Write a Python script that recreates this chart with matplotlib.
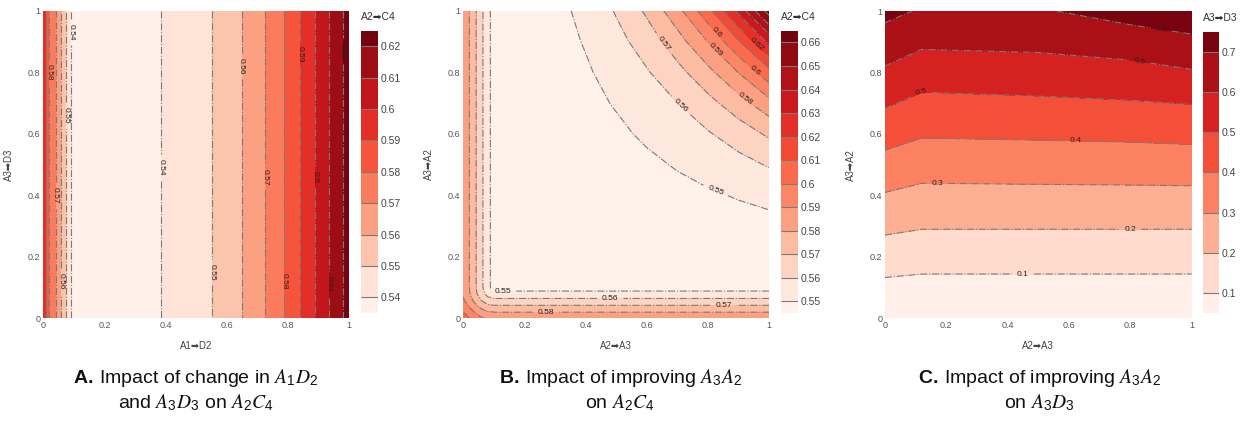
import numpy as np
import matplotlib
matplotlib.use('Agg')
import matplotlib.pyplot as plt
from matplotlib.ticker import FormatStrFormatter

plt.rcParams['font.family'] = ['Liberation Sans', 'DejaVu Sans']
plt.rcParams['mathtext.fontset'] = 'custom'
plt.rcParams['mathtext.rm'] = 'Liberation Sans'
plt.rcParams['mathtext.bf'] = 'Liberation Sans:bold'
plt.rcParams['mathtext.it'] = 'STIXGeneral:italic'

# Panel A: A2->C4 depends only on A1->D2 (read along the x axis)
a_x = [0, 0.008, 0.02, 0.04, 0.058, 0.075, 0.092, 0.24, 0.386, 0.551,
       0.648, 0.724, 0.786, 0.839, 0.888, 0.935, 0.978, 1.0]
a_y = [0, 1]
a_values = [0.592, 0.59, 0.58, 0.57, 0.56, 0.55, 0.54, 0.537, 0.54, 0.55,
            0.56, 0.57, 0.58, 0.59, 0.60, 0.61, 0.62, 0.624]
a_levels = [0.535, 0.54, 0.55, 0.56, 0.57, 0.58, 0.59, 0.60, 0.61, 0.62, 0.625]
a_ticks = [0.54, 0.55, 0.56, 0.57, 0.58, 0.59, 0.60, 0.61, 0.62]
a_label_pos = [(0.092, 0.93), (0.02, 0.8), (0.075, 0.66), (0.04, 0.4), (0.058, 0.12),
               (0.386, 0.49), (0.551, 0.15), (0.648, 0.82), (0.724, 0.46),
               (0.786, 0.12), (0.839, 0.86), (0.888, 0.46), (0.935, 0.11), (0.978, 0.87)]

# Panel B: A2->C4 over A2->A3 (x) and A3->A2 (y)
b_nodes = [0, 0.02, 0.04, 0.06, 0.08, 0.1, 0.2, 0.3, 0.4, 0.5, 0.6, 0.7, 0.8, 0.9, 1.0]
b_values = [
    [0.606, 0.600, 0.595, 0.591, 0.589, 0.588, 0.588, 0.588, 0.588, 0.588, 0.588, 0.588, 0.588, 0.588, 0.588],
    [0.600, 0.594, 0.589, 0.584, 0.581, 0.580, 0.580, 0.580, 0.580, 0.580, 0.580, 0.580, 0.580, 0.580, 0.580],
    [0.595, 0.589, 0.582, 0.576, 0.572, 0.571, 0.571, 0.571, 0.571, 0.571, 0.571, 0.571, 0.571, 0.571, 0.571],
    [0.591, 0.584, 0.576, 0.569, 0.564, 0.562, 0.562, 0.562, 0.562, 0.562, 0.562, 0.562, 0.562, 0.562, 0.562],
    [0.589, 0.581, 0.572, 0.564, 0.556, 0.553, 0.553, 0.553, 0.553, 0.553, 0.553, 0.553, 0.553, 0.553, 0.553],
    [0.588, 0.580, 0.571, 0.562, 0.553, 0.546, 0.546, 0.546, 0.546, 0.546, 0.546, 0.546, 0.546, 0.546, 0.546],
    [0.588, 0.580, 0.571, 0.562, 0.553, 0.546, 0.5460, 0.5460, 0.5461, 0.5461, 0.5462, 0.5463, 0.5465, 0.5467, 0.5470],
    [0.588, 0.580, 0.571, 0.562, 0.553, 0.546, 0.5460, 0.5461, 0.5462, 0.5464, 0.5467, 0.5470, 0.5470, 0.5474, 0.5478],
    [0.588, 0.580, 0.571, 0.562, 0.553, 0.546, 0.5461, 0.5462, 0.5465, 0.5470, 0.5476, 0.5482, 0.5492, 0.5505, 0.5520],
    [0.588, 0.580, 0.571, 0.562, 0.553, 0.546, 0.5461, 0.5464, 0.5470, 0.5479, 0.5488, 0.5505, 0.5525, 0.5568, 0.5609],
    [0.588, 0.580, 0.571, 0.562, 0.553, 0.546, 0.5462, 0.5467, 0.5476, 0.5488, 0.5510, 0.5548, 0.5592, 0.5647, 0.5717],
    [0.588, 0.580, 0.571, 0.562, 0.553, 0.546, 0.5463, 0.5470, 0.5482, 0.5505, 0.5548, 0.5600, 0.5669, 0.5758, 0.5868],
    [0.588, 0.580, 0.571, 0.562, 0.553, 0.546, 0.5465, 0.5470, 0.5492, 0.5525, 0.5592, 0.5669, 0.5772, 0.5904, 0.6069],
    [0.588, 0.580, 0.571, 0.562, 0.553, 0.546, 0.5467, 0.5474, 0.5505, 0.5568, 0.5647, 0.5758, 0.5904, 0.6092, 0.6328],
    [0.588, 0.580, 0.571, 0.562, 0.553, 0.546, 0.5470, 0.5478, 0.5520, 0.5609, 0.5717, 0.5868, 0.6069, 0.6328, 0.6650],
]
b_levels = [0.545, 0.55, 0.56, 0.57, 0.58, 0.59, 0.60, 0.61, 0.62, 0.63, 0.64, 0.65, 0.66, 0.665]
b_ticks = [0.55, 0.56, 0.57, 0.58, 0.59, 0.60, 0.61, 0.62, 0.63, 0.64, 0.65, 0.66]
b_label_pos = [(0.83, 0.43), (0.13, 0.08), (0.71, 0.69), (0.48, 0.06), (0.64, 0.88),
               (0.85, 0.04), (0.91, 0.70), (0.27, 0.02), (0.81, 0.86), (0.94, 0.79),
               (0.84, 0.94), (0.95, 0.88)]

# Panel C: A3->D3 over A2->A3 (x) and A3->A2 (y)
c_x = [0, 0.12, 0.5, 0.8, 1.0]
c_y = [0, 0.1, 0.2, 0.3, 0.4, 0.5, 0.6, 0.7, 0.8, 0.9, 1.0]
c_values = [
    [0.051, 0.051, 0.051, 0.051, 0.051],
    [0.076, 0.070, 0.070, 0.070, 0.070],
    [0.149, 0.138, 0.138, 0.138, 0.138],
    [0.221, 0.207, 0.207, 0.207, 0.207],
    [0.293, 0.273, 0.275, 0.276, 0.277],
    [0.365, 0.341, 0.344, 0.347, 0.350],
    [0.439, 0.409, 0.414, 0.419, 0.426],
    [0.512, 0.475, 0.484, 0.493, 0.503],
    [0.585, 0.545, 0.553, 0.566, 0.590],
    [0.656, 0.618, 0.625, 0.650, 0.684],
    [0.727, 0.690, 0.690, 0.740, 0.748],
]
c_levels = [0.05, 0.1, 0.2, 0.3, 0.4, 0.5, 0.6, 0.7, 0.75]
c_ticks = [0.1, 0.2, 0.3, 0.4, 0.5, 0.6, 0.7]
c_label_pos = [(0.45, 0.144), (0.8, 0.29), (0.17, 0.44), (0.62, 0.58),
               (0.12, 0.73), (0.83, 0.84), (0.9, 0.94)]

axis_ticks = [0, 0.2, 0.4, 0.6, 0.8, 1]

fig = plt.figure(figsize=(12.4, 4.23), dpi=100)


def draw_panel(ax, cax, x, y, z, levels, ticks, label_pos, xlabel, ylabel, ctitle):
    z = np.asarray(z)
    filled = ax.contourf(x, y, z, levels=levels, cmap='Reds')
    lines = ax.contour(x, y, z, levels=levels[1:-1], colors='#7a7a7a',
                       linewidths=0.8, linestyles='dashdot')
    ax.clabel(lines, fmt='%g', fontsize=6, inline=True, colors='#222222',
              manual=label_pos)
    ax.set_xlim(0, 1)
    ax.set_ylim(0, 1)
    ax.set_xticks(axis_ticks)
    ax.set_yticks(axis_ticks)
    ax.xaxis.set_major_formatter(FormatStrFormatter('%g'))
    ax.yaxis.set_major_formatter(FormatStrFormatter('%g'))
    ax.tick_params(length=0, labelsize=6.5, pad=2, colors='#555555')
    for s in ax.spines.values():
        s.set_visible(False)
    ax.set_xlabel(xlabel, fontsize=7, color='#444444', labelpad=8)
    ax.set_ylabel(ylabel, fontsize=7, color='#444444', labelpad=10)

    cb = fig.colorbar(filled, cax=cax, spacing='proportional', ticks=ticks, format='%g')
    cb.add_lines(lines)
    cb.outline.set_visible(False)
    cax.tick_params(length=0, labelsize=7.5, pad=2, colors='#444444')
    cax.text(0, 1.03, ctitle, transform=cax.transAxes, ha='left', va='bottom',
             fontsize=7.5, color='#333333')


ax_a = fig.add_axes([0.0349, 0.2475, 0.2468, 0.7272])
cax_a = fig.add_axes([0.2911, 0.26, 0.0135, 0.6674])
ax_b = fig.add_axes([0.3736, 0.2475, 0.2468, 0.7272])
cax_b = fig.add_axes([0.6298, 0.26, 0.0135, 0.6674])
ax_c = fig.add_axes([0.7137, 0.2475, 0.2473, 0.7262])
cax_c = fig.add_axes([0.9704, 0.26, 0.0129, 0.6651])

draw_panel(ax_a, cax_a, a_x, a_y, [a_values, a_values], a_levels, a_ticks, a_label_pos,
           'A1➡D2', 'A3➡D3', 'A2➡C4')
draw_panel(ax_b, cax_b, b_nodes, b_nodes, b_values, b_levels, b_ticks, b_label_pos,
           'A2➡A3', 'A3➡A2', 'A2➡C4')
draw_panel(ax_c, cax_c, c_x, c_y, c_values, c_levels, c_ticks, c_label_pos,
           'A2➡A3', 'A3➡A2', 'A3➡D3')

cap = dict(ha='center', va='center', fontsize=14, color='#111111')
fig.text(196 / 1240, 1 - 378 / 423, r'$\mathbf{A.}\;$Impact of change in $A_1D_2$', **cap)
fig.text(196 / 1240, 1 - 403 / 423, r'and $A_3D_3$ on $A_2C_4$', **cap)
fig.text(620 / 1240, 1 - 378 / 423, r'$\mathbf{B.}\;$Impact of improving $A_3A_2$', **cap)
fig.text(620 / 1240, 1 - 403 / 423, r'on $A_2C_4$', **cap)
fig.text(1039 / 1240, 1 - 378 / 423, r'$\mathbf{C.}\;$Impact of improving $A_3A_2$', **cap)
fig.text(1039 / 1240, 1 - 403 / 423, r'on $A_3D_3$', **cap)

fig.savefig('out.png', dpi=100)
